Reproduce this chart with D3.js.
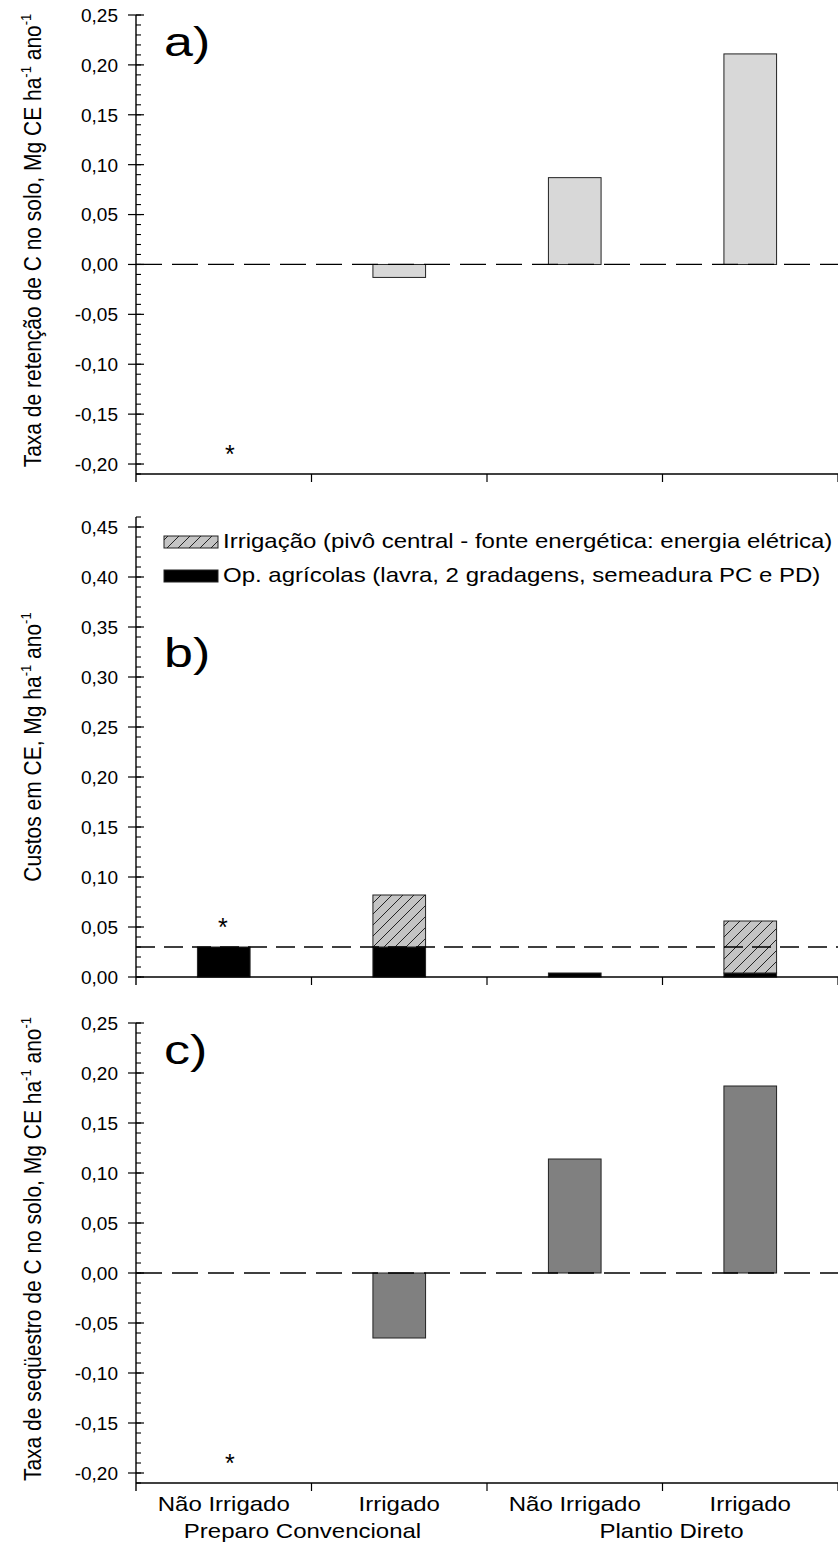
<!DOCTYPE html>
<html>
<head>
<meta charset="utf-8">
<script src="https://cdn.jsdelivr.net/npm/d3@7"></script>
<style>
  html, body { margin: 0; background: #fff; }
  svg { display: block; }
</style>
</head>
<body>
<svg id="chart" width="838" height="1544"></svg>
<script>
// ---- data -------------------------------------------------------------
const categories = ["Não Irrigado", "Irrigado", "Não Irrigado", "Irrigado"];
const groups = ["Preparo Convencional", "Plantio Direto"];

// a) soil C retention rate (Mg CE ha-1 ano-1); first treatment is the reference
const retencao = [null, -0.013, 0.087, 0.211];
// b) costs in CE (Mg ha-1 ano-1)
const custoOperacoes = [0.030, 0.030, 0.004, 0.004];
const custoIrrigacao = [0.000, 0.052, 0.000, 0.052];
const custoReferencia = 0.03;
// c) soil C sequestration rate (Mg CE ha-1 ano-1)
const sequestro = [null, -0.065, 0.114, 0.187];

// reference-treatment markers (category index, value)
const marcaA = [{ cat: 0, value: -0.186 }];
const marcaB = [{ cat: 0, value: 0.054 }];
const marcaC = [{ cat: 0, value: -0.186 }];

const ticksAC = [-0.20, -0.15, -0.10, -0.05, 0.00, 0.05, 0.10, 0.15, 0.20, 0.25];
const ticksB = [0.00, 0.05, 0.10, 0.15, 0.20, 0.25, 0.30, 0.35, 0.40, 0.45];

const legendItems = [
  { key: "irr", label: "Irrigação (pivô central - fonte energética: energia elétrica)" },
  { key: "op", label: "Op. agrícolas (lavra, 2 gradagens, semeadura PC e PD)" }
];

// ---- setup ------------------------------------------------------------
const FONT = "'Liberation Sans', Arial, Helvetica, sans-serif";
const SX = 1.2;           // horizontal stretch for legend / category text
const AXIS_X = 136;
const RIGHT = 838;

const svg = d3.select("#chart");

const defs = svg.append("defs");
const hatch = defs.append("pattern")
  .attr("id", "hatch")
  .attr("patternUnits", "userSpaceOnUse")
  .attr("width", 11).attr("height", 11);
hatch.append("rect").attr("width", 11).attr("height", 11).attr("fill", "#c4c4c4");
hatch.append("path")
  .attr("d", "M0,11 L11,0 M-3,3 L3,-3 M8,14 L14,8")
  .attr("stroke", "#111").attr("stroke-width", 0.9);

const x = d3.scaleBand()
  .domain(d3.range(categories.length))
  .range([AXIS_X, RIGHT])
  .paddingInner(0.7)
  .paddingOuter(0.35);
const boundaries = d3.range(categories.length + 1).map(i => AXIS_X + i * x.step());

const fmt = v => d3.format(".2f")(v).replace(".", ",").replace("−", "-");

function stretchedText(parent, tx, ty, str, size, anchor, sx) {
  return parent.append("text")
    .attr("transform", `translate(${tx},${ty}) scale(${sx || SX},1)`)
    .attr("text-anchor", anchor || "start")
    .attr("font-family", FONT)
    .attr("font-size", size)
    .attr("fill", "#000")
    .text(str);
}

function yTitle(parent, cx, cy, main) {
  const t = parent.append("text")
    .attr("transform", `translate(${cx},${cy}) scale(1.1,1) rotate(-90)`)
    .attr("text-anchor", "middle")
    .attr("font-family", FONT)
    .attr("font-size", 21)
    .attr("fill", "#000");
  t.append("tspan").text(main);
  t.append("tspan").attr("font-size", 13).attr("dy", -9).text("-1");
  t.append("tspan").attr("dy", 9).text(" ano");
  t.append("tspan").attr("font-size", 13).attr("dy", -9).text("-1");
}

function axes(g, y, ticks) {
  const [d0, d1] = y.domain();
  // vertical axis line
  g.append("line")
    .attr("x1", AXIS_X).attr("x2", AXIS_X)
    .attr("y1", y(d1)).attr("y2", y(d0) + 8)
    .attr("stroke", "#000").attr("stroke-width", 1.4);
  // minor ticks every 0.01, drawn inward
  const minor = d3.range(Math.round(d0 * 100), Math.round(d1 * 100) + 1).map(v => v / 100);
  g.selectAll(null).data(minor).join("line")
    .attr("x1", AXIS_X).attr("x2", AXIS_X + 5)
    .attr("y1", d => y(d)).attr("y2", d => y(d))
    .attr("stroke", "#000").attr("stroke-width", 1.1);
  // major ticks crossing the axis
  g.selectAll(null).data(ticks).join("line")
    .attr("x1", AXIS_X - 8).attr("x2", AXIS_X + 8)
    .attr("y1", d => y(d)).attr("y2", d => y(d))
    .attr("stroke", "#000").attr("stroke-width", 1.2);
  ticks.forEach(v => {
    stretchedText(g, AXIS_X - 18, y(v), fmt(v), 19, "end", 1)
      .attr("dy", "0.36em");
  });
  // horizontal axis with category boundary ticks
  const yb = y(d0);
  g.append("line")
    .attr("x1", AXIS_X).attr("x2", RIGHT)
    .attr("y1", yb).attr("y2", yb)
    .attr("stroke", "#000").attr("stroke-width", 1.4);
  g.selectAll(null).data(boundaries.slice(1)).join("line")
    .attr("x1", d => d).attr("x2", d => d)
    .attr("y1", yb).attr("y2", yb + 8)
    .attr("stroke", "#000").attr("stroke-width", 1.2);
}

function dashed(g, y, value, pattern) {
  g.append("line")
    .attr("x1", AXIS_X).attr("x2", RIGHT)
    .attr("y1", y(value)).attr("y2", y(value))
    .attr("stroke", "#000").attr("stroke-width", 1.3)
    .attr("stroke-dasharray", pattern);
}

function marks(g, y, list, dx) {
  list.forEach(m => {
    g.append("text")
      .attr("x", x(m.cat) + x.bandwidth() / 2 + dx)
      .attr("y", y(m.value) + 13)
      .attr("text-anchor", "middle")
      .attr("font-family", FONT)
      .attr("font-size", 25)
      .text("*");
  });
}

function panelLetter(g, y, value, str) {
  stretchedText(g, 164, y(value), str, 40, "start", 1.3);
}

// ---- panel a ----------------------------------------------------------
const yA = d3.scaleLinear().domain([-0.21, 0.25]).range([474, 15]);
const gA = svg.append("g");
gA.selectAll("rect").data(retencao.map((v, i) => ({ v, i })).filter(d => d.v !== null))
  .join("rect")
  .attr("x", d => x(d.i)).attr("width", x.bandwidth())
  .attr("y", d => yA(Math.max(0, d.v)))
  .attr("height", d => Math.abs(yA(d.v) - yA(0)))
  .attr("fill", "#d8d8d8").attr("stroke", "#222").attr("stroke-width", 1);
dashed(gA, yA, 0, "26,10");
axes(gA, yA, ticksAC);
marks(gA, yA, marcaA, 6);
panelLetter(gA, yA, 0.209, "a)");
yTitle(gA, 41, (yA.range()[0] + yA.range()[1]) / 2 - 4, "Taxa de retenção de C no solo, Mg CE ha");

// ---- panel b ----------------------------------------------------------
const yB = d3.scaleLinear().domain([0, 0.46]).range([977, 517]);
const gB = svg.append("g");
const stacked = d3.stack().keys(["op", "irr"])(
  categories.map((c, i) => ({ op: custoOperacoes[i], irr: custoIrrigacao[i], i }))
);
stacked.forEach(layer => {
  gB.selectAll(null).data(layer.filter(d => d[1] - d[0] > 0)).join("rect")
    .attr("x", d => x(d.data.i)).attr("width", x.bandwidth())
    .attr("y", d => yB(d[1]))
    .attr("height", d => yB(d[0]) - yB(d[1]))
    .attr("fill", layer.key === "op" ? "#000" : "url(#hatch)")
    .attr("stroke", "#222").attr("stroke-width", 1);
});
dashed(gB, yB, custoReferencia, "19,9");
axes(gB, yB, ticksB);
marks(gB, yB, marcaB, -1);
panelLetter(gB, yB, 0.31, "b)");
yTitle(gB, 41, (yB.range()[0] + yB.range()[1]) / 2, "Custos em CE, Mg ha");

// legend
const legendRows = [548, 582];
legendItems.forEach((item, k) => {
  const base = legendRows[k];
  gB.append("rect")
    .attr("x", 164).attr("y", base - 12)
    .attr("width", 54).attr("height", 12)
    .attr("fill", item.key === "op" ? "#000" : "url(#hatch)")
    .attr("stroke", "#222").attr("stroke-width", 1);
  stretchedText(gB, 223, base, item.label, 20, "start");
});

// ---- panel c ----------------------------------------------------------
const yC = d3.scaleLinear().domain([-0.21, 0.25]).range([1483, 1023]);
const gC = svg.append("g");
gC.selectAll("rect").data(sequestro.map((v, i) => ({ v, i })).filter(d => d.v !== null))
  .join("rect")
  .attr("x", d => x(d.i)).attr("width", x.bandwidth())
  .attr("y", d => yC(Math.max(0, d.v)))
  .attr("height", d => Math.abs(yC(d.v) - yC(0)))
  .attr("fill", "#808080").attr("stroke", "#222").attr("stroke-width", 1);
dashed(gC, yC, 0, "26,10");
axes(gC, yC, ticksAC);
marks(gC, yC, marcaC, 6);
panelLetter(gC, yC, 0.209, "c)");
yTitle(gC, 41, (yC.range()[0] + yC.range()[1]) / 2 - 4, "Taxa de seqüestro de C no solo, Mg CE ha");

// category and group labels
categories.forEach((c, i) => {
  stretchedText(gC, x(i) + x.bandwidth() / 2, 1511, c, 20, "middle");
});
const groupCenters = [boundaries[1] - 9, boundaries[3] + 9];
groups.forEach((gname, i) => {
  stretchedText(gC, groupCenters[i], 1538, gname, 20, "middle");
});
</script>
</body>
</html>
